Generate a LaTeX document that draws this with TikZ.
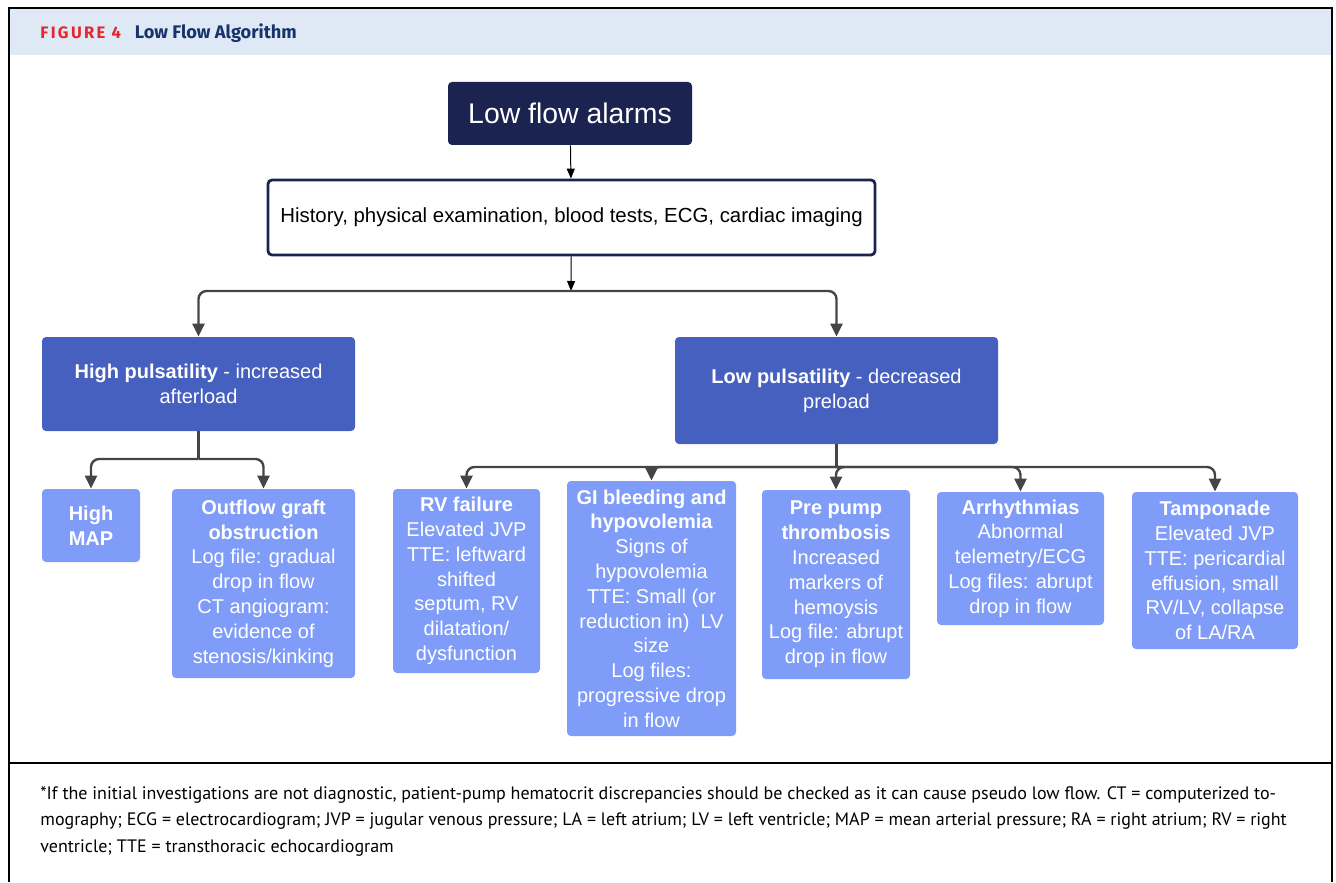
\documentclass[tikz,border=0pt]{standalone}
\usepackage{fontspec}
\setmainfont{Liberation Sans}
\newfontfamily\headfont{Fira Sans}
\newfontfamily\figfont[LetterSpace=14]{Fira Sans}
\newfontfamily\notefont{PT Sans}
\usepackage{tikz}
\usetikzlibrary{arrows.meta,calc,positioning}
\usepackage{xcolor}
\definecolor{navy}{HTML}{1B2351}
\definecolor{midblue}{HTML}{4660BF}
\definecolor{lightblue}{HTML}{7F9DF8}
\definecolor{headbg}{HTML}{DEE9F5}
\definecolor{figred}{HTML}{E5262F}
\definecolor{titlenavy}{HTML}{17336B}
\definecolor{conngrey}{HTML}{454545}

\begin{document}
\begin{tikzpicture}[x=0.5pt, y=-0.5pt,
  mainbox/.style={fill=midblue, text=white, rounded corners=2pt, inner sep=0pt, align=center, font=\fontsize{10}{12.5}\selectfont},
  causebox/.style={fill=lightblue, text=white, rounded corners=2pt, inner sep=0pt, align=center, font=\fontsize{10}{12.4}\selectfont},
  conn/.style={draw=conngrey, line width=1.2pt, rounded corners=4pt, -{Triangle[width=6pt,length=6.5pt]}},
  thinarrow/.style={draw=black, line width=0.5pt, -{Triangle[width=4pt,length=5pt]}}]
\useasboundingbox (0,0) rectangle (1336,882);
% Cornice
\fill[headbg] (9,8) rectangle (1332,55);
\draw[line width=1pt] (9,882) -- (9,8) -- (1332,8) -- (1332,882);
\draw[line width=1pt] (9,763) -- (1332,763);
\node[anchor=west, inner sep=0pt, text=figred, font=\figfont\bfseries\fontsize{8.3}{10}\selectfont] (figlabel) at (40,33) {FIGURE 4};
\node[right=6.5pt of figlabel, inner sep=0pt, text=titlenavy, font=\headfont\bfseries\fontsize{9.1}{11}\selectfont] (figtitle) {Low Flow Algorithm};
% Nodi principali
\node[fill=navy, text=white, rounded corners=2pt, minimum width=122pt, minimum height=31.5pt, font=\fontsize{14.2}{16}\selectfont] (alarms) at (570,113.5) {Low flow alarms};
\node[draw=navy, line width=1.4pt, fill=white, rounded corners=2pt, minimum width=303.5pt, minimum height=37.5pt, font=\fontsize{10.2}{12}\selectfont] (hist) at (571.5,217.5) {History, physical examination, blood tests, ECG, cardiac imaging};
\node[mainbox, minimum width=156.5pt, minimum height=47pt] (high) at (198.5,384) {\textbf{High pulsatility} - increased\\afterload};
\node[mainbox, minimum width=161.5pt, minimum height=53.5pt] (low) at (836.5,390.5) {\textbf{Low pulsatility} - decreased\\preload};
% Cause
\node[causebox, minimum width=49pt, minimum height=36.5pt] (map) at (91,525.5) {\textbf{High}\\\textbf{MAP}};
\node[causebox, minimum width=91.5pt, minimum height=94.5pt] (graft) at (263.5,583.5) {\textbf{Outflow graft}\\\textbf{obstruction}\\Log file: gradual\\drop in flow\\CT angiogram:\\evidence of\\stenosis/kinking};
\node[causebox, minimum width=73.5pt, minimum height=92pt] (rv) at (466.5,581) {\textbf{RV failure}\\Elevated JVP\\TTE: leftward\\shifted\\septum, RV\\dilatation/\\dysfunction};
\node[causebox, minimum width=84.5pt, minimum height=127.5pt] (gi) at (651.5,608.5) {\textbf{GI bleeding and}\\\textbf{hypovolemia}\\Signs of\\hypovolemia\\TTE: Small (or\\reduction in)\ \ LV\\size\\Log files:\\progressive drop\\in flow};
\node[causebox, minimum width=74pt, minimum height=94.5pt] (pre) at (836,584.5) {\textbf{Pre pump}\\\textbf{thrombosis}\\Increased\\markers of\\hemoysis\\Log file: abrupt\\drop in flow};
\node[causebox, minimum width=83.5pt, minimum height=66.5pt] (arr) at (1020.5,558.5) {\textbf{Arrhythmias}\\Abnormal\\telemetry/ECG\\Log files: abrupt\\drop in flow};
\node[causebox, minimum width=83pt, minimum height=78.5pt] (tamp) at (1215,570.5) {\textbf{Tamponade}\\Elevated JVP\\TTE: pericardial\\effusion, small\\RV/LV, collapse\\of LA/RA};
% Collegamenti
\coordinate (split) at (571,291);
\coordinate (hjoin) at (198.5,459);
\coordinate (ljoin) at (836.5,467);
\draw[thinarrow] (alarms) -- (hist);
\draw[thinarrow] (hist) -- (split);
\draw[conn] (split) -| (high);
\draw[conn] (split) -| (low);
\draw[conn, -] (high) -- (hjoin);
\foreach \b in {map,graft} \draw[conn] (hjoin) -| (\b);
\draw[conn, -] (low) -- (ljoin);
\foreach \b in {rv,gi,pre,arr,tamp} \draw[conn] (ljoin) -| (\b);
% Nota
\node[anchor=north west, inner sep=0pt, align=left, font=\notefont\fontsize{9}{13.3}\selectfont] (note) at (40,786) {*If the initial investigations are not diagnostic, patient-pump hematocrit discrepancies should be checked as it can cause pseudo low flow. CT = computerized to-\\mography; ECG = electrocardiogram; JVP = jugular venous pressure; LA = left atrium; LV = left ventricle; MAP = mean arterial pressure; RA = right atrium; RV = right\\ventricle; TTE = transthoracic echocardiogram};
\end{tikzpicture}
\end{document}
